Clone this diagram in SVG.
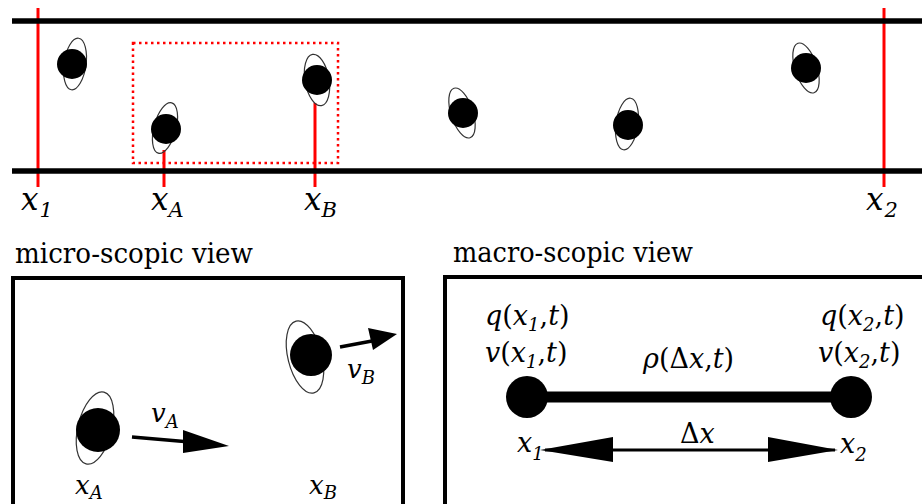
<svg xmlns="http://www.w3.org/2000/svg" width="922" height="504" viewBox="0 0 922 504">
<style>
.rail{stroke:#000;stroke-width:5.5}
.red{stroke:#f00;stroke-width:3}
.dotbox{fill:none;stroke:#f00;stroke-width:2.5;stroke-dasharray:2.5 3.5}
.orbit{fill:none;stroke:#333;stroke-width:1.2}
.dot{fill:#000}
.box{fill:none;stroke:#000;stroke-width:4}
.arrow{stroke:#000;stroke-width:3.5}
.head{fill:#000}
.lbl{font-style:italic;fill:#000}
.title{font-size:27px;fill:#000}
.up{font-style:normal}
</style>
<rect width="922" height="504" fill="#fff"/>

<g id="road">
  <line class="red" x1="38" y1="8" x2="38" y2="187"/>
  <line class="red" x1="164" y1="150" x2="164" y2="187"/>
  <line class="red" x1="315" y1="103" x2="315" y2="187"/>
  <line class="red" x1="884" y1="8" x2="884" y2="187"/>
  <line class="rail" x1="12" y1="21" x2="922" y2="21"/>
  <line class="rail" x1="12" y1="171" x2="922" y2="171"/>
  <rect class="dotbox" x="133" y="43" width="205" height="120"/>
</g>

<g id="car1"><ellipse class="orbit" cx="75" cy="64" rx="11" ry="26" transform="rotate(8 75 64)"/><circle class="dot" cx="72" cy="64" r="15"/></g>
<g id="carA"><ellipse class="orbit" cx="165" cy="128" rx="11" ry="26" transform="rotate(15 165 128)"/><circle class="dot" cx="166" cy="129" r="15"/></g>
<g id="carB"><ellipse class="orbit" cx="317" cy="80" rx="12" ry="26" transform="rotate(-10 317 80)"/><circle class="dot" cx="317" cy="80" r="15"/></g>
<g id="car4"><ellipse class="orbit" cx="462" cy="113" rx="11" ry="26" transform="rotate(-18 462 113)"/><circle class="dot" cx="463" cy="113" r="15"/></g>
<g id="car5"><ellipse class="orbit" cx="627" cy="124" rx="11" ry="26" transform="rotate(8 627 124)"/><circle class="dot" cx="628" cy="125" r="15"/></g>
<g id="car6"><ellipse class="orbit" cx="806" cy="68" rx="11" ry="26" transform="rotate(-18 806 68)"/><circle class="dot" cx="806" cy="68" r="15"/></g>

<g id="top-labels" class="lbl" font-size="31" font-family="DejaVu Serif">
  <text x="21" y="210">x<tspan font-size="21" dx="1" dy="7">1</tspan></text>
  <text x="151" y="210">x<tspan font-size="21" dx="0" dy="7">A</tspan></text>
  <text x="304" y="210">x<tspan font-size="21" dx="0" dy="7">B</tspan></text>
  <text x="866" y="210">x<tspan font-size="21" dx="1" dy="7">2</tspan></text>
</g>

<text class="title" x="15" y="263" font-family="DejaVu Serif" textLength="238" lengthAdjust="spacingAndGlyphs">micro-scopic view</text>
<text class="title" x="453" y="262" font-family="DejaVu Serif" textLength="240" lengthAdjust="spacingAndGlyphs">macro-scopic view</text>

<g id="micro" font-family="DejaVu Serif">
  <rect class="box" x="13" y="278" width="390" height="240"/>
  <g id="microA"><ellipse class="orbit" cx="95" cy="428" rx="17" ry="37" transform="rotate(14 95 428)"/><circle class="dot" cx="98" cy="430" r="22"/></g>
  <g id="microB"><ellipse class="orbit" cx="305" cy="357" rx="17" ry="37" transform="rotate(-14 305 357)"/><circle class="dot" cx="311" cy="355" r="21"/></g>
  <g id="micro-labels" class="lbl" font-size="26">
    <text x="151" y="422">v<tspan font-size="18" dx="0" dy="6">A</tspan></text>
    <text x="347" y="378">v<tspan font-size="18" dx="0" dy="6">B</tspan></text>
    <text x="75" y="494">x<tspan font-size="18" dx="0" dy="5">A</tspan></text>
    <text x="309" y="494">x<tspan font-size="18" dx="0" dy="5">B</tspan></text>
  </g>
</g>

<g id="macro" font-family="DejaVu Serif">
  <rect class="box" x="445" y="277" width="490" height="240"/>
  <line x1="527" y1="397" x2="851" y2="397" stroke="#000" stroke-width="11"/>
  <g id="node1"><circle class="dot" cx="527" cy="397" r="21"/></g>
  <g id="node2"><circle class="dot" cx="851" cy="397" r="21"/></g>
  <g class="lbl" font-size="27">
    <text x="485" y="325">q<tspan class="up">(</tspan>x<tspan font-size="18" dy="6">1</tspan><tspan dy="-6" class="up">,</tspan>t<tspan class="up">)</tspan></text>
    <text x="485" y="362">v<tspan class="up">(</tspan>x<tspan font-size="18" dy="6">1</tspan><tspan dy="-6" class="up">,</tspan>t<tspan class="up">)</tspan></text>
    <text x="820" y="325">q<tspan class="up">(</tspan>x<tspan font-size="18" dy="6">2</tspan><tspan dy="-6" class="up">,</tspan>t<tspan class="up">)</tspan></text>
    <text x="818" y="362">v<tspan class="up">(</tspan>x<tspan font-size="18" dy="6">2</tspan><tspan dy="-6" class="up">,</tspan>t<tspan class="up">)</tspan></text>
    <text x="643" y="368">ρ<tspan class="up">(Δ</tspan>x<tspan class="up">,</tspan>t<tspan class="up">)</tspan></text>
    <text x="680" y="443"><tspan class="up">Δ</tspan>x</text>
    <text x="517" y="452">x<tspan font-size="18" dy="8">1</tspan></text>
    <text x="840" y="453">x<tspan font-size="18" dy="8">2</tspan></text>
  </g>
</g>

<g id="connectors">
  <line class="arrow" x1="132" y1="437" x2="190" y2="442"/>
  <polygon class="head" points="183,430 229,446 183,453"/>
  <line class="arrow" x1="340" y1="347" x2="372" y2="341"/>
  <polygon class="head" points="368,328 397,334 373,350"/>
  <line x1="545" y1="450" x2="835" y2="450" stroke="#000" stroke-width="3"/>
  <polygon class="head" points="540,450 613,437 613,462"/>
  <polygon class="head" points="838,450 768,437 768,462"/>
</g>
</svg>
